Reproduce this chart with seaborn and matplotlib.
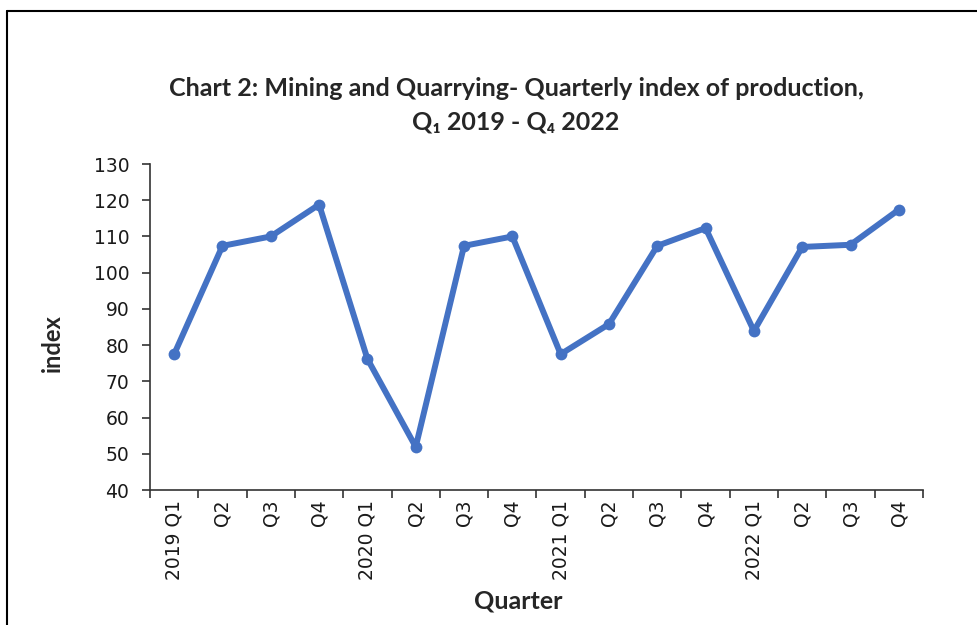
import matplotlib
matplotlib.use("Agg")
import matplotlib.pyplot as plt
import seaborn as sns
import pandas as pd
from matplotlib.lines import Line2D
from matplotlib.ticker import FixedLocator, MultipleLocator

quarters = ["2019 Q1", "2019 Q2", "2019 Q3", "2019 Q4",
            "2020 Q1", "2020 Q2", "2020 Q3", "2020 Q4",
            "2021 Q1", "2021 Q2", "2021 Q3", "2021 Q4",
            "2022 Q1", "2022 Q2", "2022 Q3", "2022 Q4"]
tick_labels = ["2019 Q1", "Q2", "Q3", "Q4",
               "2020 Q1", "Q2", "Q3", "Q4",
               "2021 Q1", "Q2", "Q3", "Q4",
               "2022 Q1", "Q2", "Q3", "Q4"]
index_values = [77.5, 107.4, 110.0, 118.8,
                76.2, 51.9, 107.4, 110.0,
                77.5, 85.8, 107.4, 112.3,
                83.9, 107.1, 107.7, 117.4]

df = pd.DataFrame({"Quarter": quarters, "index": index_values})

sns.set_theme(style="white")
plt.rcParams['font.family'] = ['DejaVu Sans']

fig = plt.figure(figsize=(9.78, 6.25), dpi=100)
ax = fig.add_axes([150/978, 1 - 490/625, (923-150)/978, (490-164)/625])

sns.lineplot(data=df, x="Quarter", y="index", sort=False, ax=ax,
             color="#4472C4", linewidth=4.3, marker="o", markersize=8.5,
             markeredgewidth=0)

ax.set_ylim(40, 130)
ax.yaxis.set_major_locator(MultipleLocator(10))
ax.set_xlim(-0.5, len(quarters) - 0.5)

# labels at category centers, ticks at category boundaries
ax.xaxis.set_major_locator(FixedLocator([i - 0.5 for i in range(len(quarters) + 1)]))
ax.xaxis.set_minor_locator(FixedLocator(list(range(len(quarters)))))
ax.set_xticklabels([""] * (len(quarters) + 1))
ax.set_xticks(range(len(quarters)), labels=tick_labels, minor=True)
ax.tick_params(axis="x", which="minor", length=0, labelsize=13.5, rotation=90,
               pad=7, labelcolor="#1a1a1a")
ax.tick_params(axis="x", which="major", length=6, width=1.2, color="#333333",
               direction="out", bottom=True)
ax.tick_params(axis="y", length=6, width=1.2, color="#333333", direction="out",
               labelsize=13.5, labelcolor="#1a1a1a", left=True, pad=9)

for s in ["top", "right"]:
    ax.spines[s].set_visible(False)
for s in ["left", "bottom"]:
    ax.spines[s].set_color("#333333")
    ax.spines[s].set_linewidth(1.2)

ax.set_xlabel("")
ax.set_ylabel("")
fig.text(52/978, 1 - 343/625, "index", rotation=90, ha="center", va="center",
         fontsize=17, fontweight="bold", family=["Lato", "DejaVu Sans"])
fig.text(518/978, 1 - 601/625, "Quarter", ha="center", va="center",
         fontsize=18, fontweight="bold", family=["Lato", "DejaVu Sans"])

fig.text(516/978, 1 - 89/625, "Chart 2: Mining and Quarrying- Quarterly index of production,",
         ha="center", va="center", fontsize=18, fontweight="bold",
         family=["Lato", "DejaVu Sans"])
fig.text(516/978, 1 - 122/625, "Q\u2081 2019 - Q\u2084 2022",
         ha="center", va="center", fontsize=18, fontweight="bold",
         family=["Lato", "DejaVu Sans"])

# outer chart border (left and top edges visible)
fig.add_artist(Line2D([7/978, 7/978], [0, 1 - 11/625], transform=fig.transFigure,
                      color="black", linewidth=1.5))
fig.add_artist(Line2D([7/978, 1], [1 - 11/625, 1 - 11/625], transform=fig.transFigure,
                      color="black", linewidth=1.5))

fig.savefig("out.png", dpi=100, facecolor="white")
